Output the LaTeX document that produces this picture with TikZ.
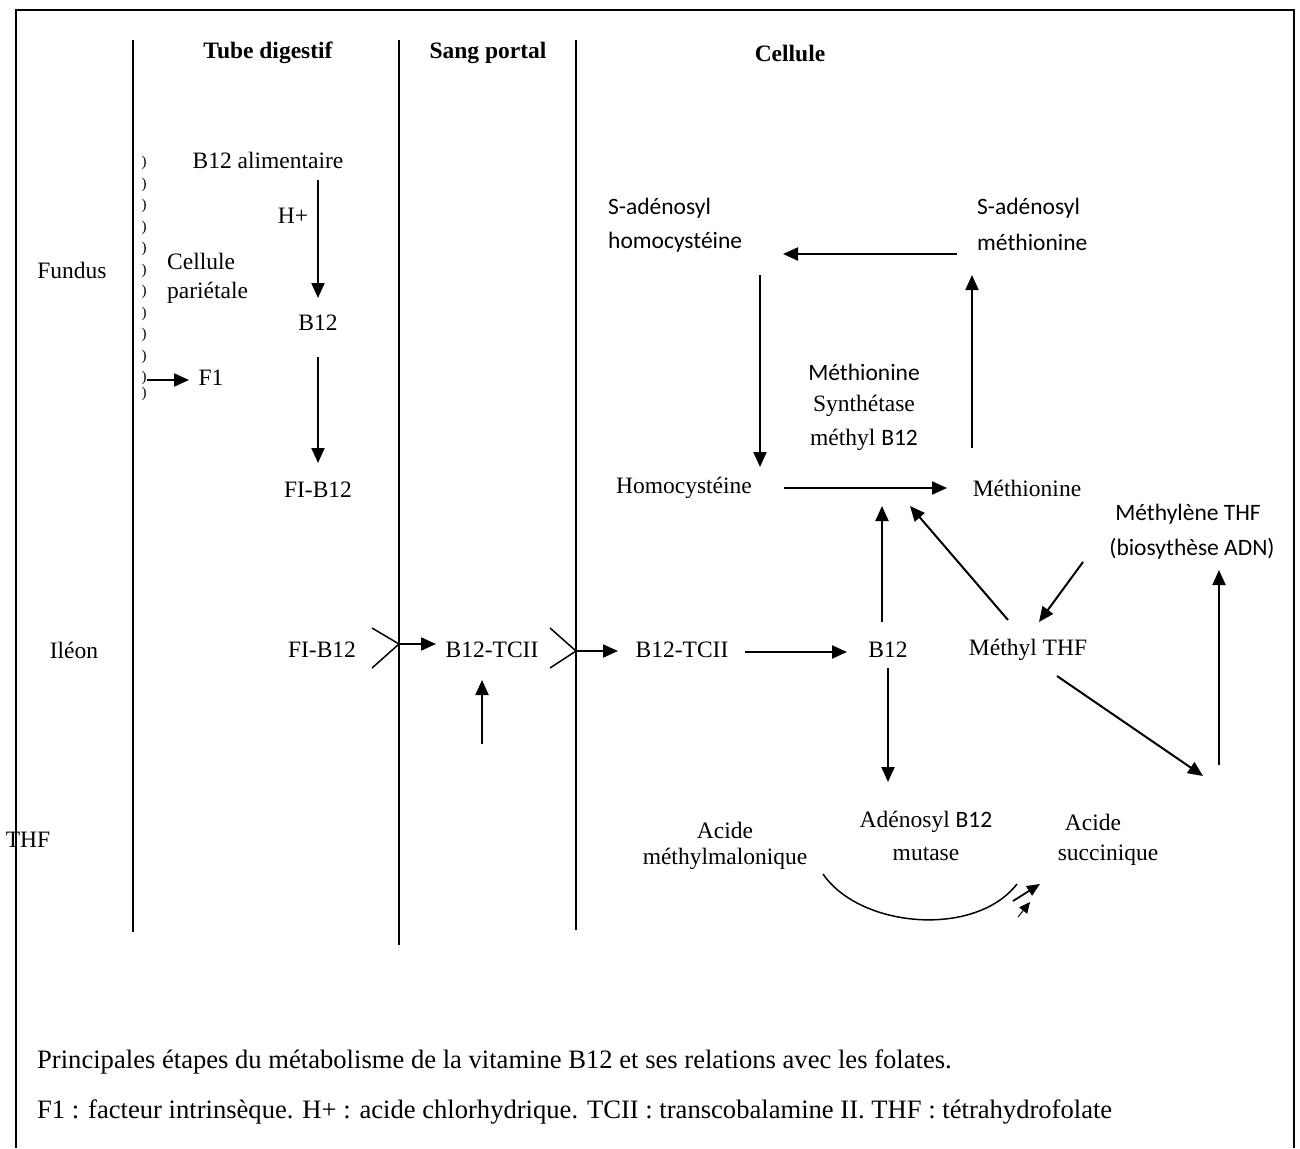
\documentclass[tikz,border=0pt]{standalone}
\usepackage{fontspec}
\setmainfont{Liberation Serif}
\newfontfamily\calib{Carlito}
\usetikzlibrary{arrows.meta}
\begin{document}
\begin{tikzpicture}[x=1pt,y=-1pt,
  font=\fontsize{23.5}{28}\selectfont,
  arr/.style={line width=2pt,-{Triangle[length=15pt,width=13pt]}},
  divline/.style={line width=1.8pt},
  lbl/.style={inner sep=0pt,anchor=center},
  lblw/.style={inner sep=0pt,anchor=west},
  cal/.style={font=\calib\fontsize{23.5}{28}\selectfont},
  capt/.style={inner sep=0pt,anchor=west,font=\fontsize{26.6}{30}\selectfont},
  hdr/.style={inner sep=0pt,anchor=center,font=\rmfamily\bfseries\fontsize{23.5}{28}\selectfont},
  par/.style={inner sep=0pt,anchor=center,font=\fontsize{15}{16}\selectfont}]
\useasboundingbox (0,0) rectangle (1300,1148);
% frame
\draw[line width=2.5pt] (16,1148) -- (16,10) -- (1294,10) -- (1294,1148);
% dividers
\coordinate (d1t) at (133,40); \coordinate (d1b) at (133,932);
\coordinate (d2t) at (399,40); \coordinate (d2b) at (399,945);
\coordinate (d3t) at (576,40); \coordinate (d3b) at (576,930);
\draw[divline] (d1t) -- (d1b);
\draw[divline] (d2t) -- (d2b);
\draw[divline] (d3t) -- (d3b);
% headers
\node[hdr] (h1) at (268,53) {Tube digestif};
\node[hdr] (h2) at (488,53) {Sang portal};
\node[hdr] (h3) at (790,53) {Cellule};
% left labels
\node[lbl] (fundus) at (72,270) {Fundus};
\node[lbl] (ileon) at (74,650) {Iléon};
\node[lbl] (thf) at (28,840) {THF};
% parentheses
\foreach \k in {0,...,10} {\node[par] (p\k) at (144,{163+21.5*\k}) {)};}
\node[par] (p11) at (144,394) {)};
% tube digestif column
\node[lbl] (b12al) at (268,160) {B12 alimentaire};
\node[lbl] (hplus) at (293,216) {H+};
\node[lblw] (cell1) at (167,261) {Cellule};
\node[lblw] (cell2) at (167,293) {pariétale};
\node[lbl] (b12a) at (318,323) {B12};
\node[lbl] (fib12a) at (318,490) {FI-B12};
\node[lbl] (f1) at (211,378) {F1};
\coordinate (a1s) at (318,180); \coordinate (a1e) at (318,298);
\coordinate (a2s) at (318,357); \coordinate (a2e) at (318,463);
\coordinate (f1s) at (147,380); \coordinate (f1e) at (189,380);
\draw[arr] (a1s) -- (a1e);
\draw[arr] (a2s) -- (a2e);
\draw[arr] (f1s) -- (f1e);
% ileon row
\node[lbl] (fib12b) at (322,650) {FI-B12};
\node[lbl] (tc1) at (492,650) {B12-TCII};
\node[lbl] (tc2) at (682,650) {B12-TCII};
\node[lbl] (b12c) at (888,650) {B12};
\node[lbl] (mthf) at (1028,650) {Méthyl THF};
\coordinate (c1a) at (372,628); \coordinate (c1m) at (399,644); \coordinate (c1b) at (372,668);
\coordinate (c2a) at (550,628); \coordinate (c2m) at (576,651); \coordinate (c2b) at (550,668);
\draw[line width=1.5pt] (c1a) -- (c1m) -- (c1b);
\draw[line width=1.5pt] (c2a) -- (c2m) -- (c2b);
\coordinate (c1e) at (436,644);
\coordinate (c2e) at (618,651);
\draw[arr] (c1m) -- (c1e);
\draw[arr] (c2m) -- (c2e);
\coordinate (ups) at (482,744); \coordinate (upe) at (482,680);
\draw[arr] (ups) -- (upe);
\coordinate (t2s) at (745,652); \coordinate (t2e) at (847,652);
\draw[arr] (t2s) -- (t2e);
% cycle
\node[lblw,cal] (sah1) at (608,208) {S-adénosyl};
\node[lblw,cal] (sah2) at (608,242) {homocystéine};
\node[lblw,cal] (sam1) at (977,208) {S-adénosyl};
\node[lblw,cal] (sam2) at (977,242) {méthionine};
\coordinate (hs) at (957,254); \coordinate (he) at (783,254);
\draw[arr] (hs) -- (he);
\coordinate (ls) at (760,275); \coordinate (le) at (760,467);
\draw[arr] (ls) -- (le);
\coordinate (rs) at (972,448); \coordinate (re) at (972,275);
\draw[arr] (rs) -- (re);
\node[lbl,cal] (ms1) at (864,372) {Méthionine};
\node[lbl] (ms2) at (864,406) {Synthétase};
\node[lbl] (ms3) at (864,440) {méthyl {\calib B12}};
\node[lbl] (homo) at (684,488) {Homocystéine};
\node[lbl] (meth) at (1027,488) {Méthionine};
\coordinate (hms) at (784,488); \coordinate (hme) at (947,488);
\draw[arr] (hms) -- (hme);
\coordinate (bus) at (882,622); \coordinate (bue) at (882,506);
\draw[arr] (bus) -- (bue);
\coordinate (dgs) at (1008,620); \coordinate (dge) at (910,506);
\draw[arr] (dgs) -- (dge);
\node[lbl,cal] (mly1) at (1188,514) {Méthylène THF};
\node[lbl,cal] (mly2) at (1192,549) {(biosythèse ADN)};
\coordinate (mls) at (1083,562); \coordinate (mle) at (1039,622);
\draw[arr] (mls) -- (mle);
\coordinate (rus) at (1219,765); \coordinate (rue) at (1219,570);
\draw[arr] (rus) -- (rue);
\coordinate (mds) at (1057,676); \coordinate (mde) at (1203,776);
\draw[arr] (mds) -- (mde);
\coordinate (bds) at (888,668); \coordinate (bde) at (888,782);
\draw[arr] (bds) -- (bde);
% bottom
\node[lbl] (amm1) at (725,830) {Acide};
\node[lbl] (amm2) at (725,859) {méthylmalonique};
\node[lbl] (ado1) at (926,822) {Adénosyl {\calib B12}};
\node[lbl] (ado2) at (926,854) {mutase};
\node[lbl] (suc1) at (1093,822) {Acide};
\node[lbl] (suc2) at (1108,855) {succinique};
\coordinate (arcs) at (823,874); \coordinate (arce) at (1017,884);
\draw[line width=1.5pt] (arcs) .. controls (860,928) and (975,938) .. (arce);
\coordinate (h1s) at (1013,901); \coordinate (h1e) at (1040,884);
\draw[line width=1.8pt,-{Triangle[length=13pt,width=11pt]}] (h1s) -- (h1e);
\coordinate (h2s) at (1018,917); \coordinate (h2e) at (1030,902);
\draw[line width=1pt,-{Triangle[length=11pt,width=10pt]}] (h2s) -- (h2e);
% captions
\node[capt] (cap1) at (37,1062) {Principales étapes du métabolisme de la vitamine B12 et ses relations avec les folates.};
\node[capt] (cap2) at (37,1112) {F1 : facteur intrinsèque. H+ : acide chlorhydrique. TCII : transcobalamine II. THF : tétrahydrofolate};
\end{tikzpicture}
\end{document}
